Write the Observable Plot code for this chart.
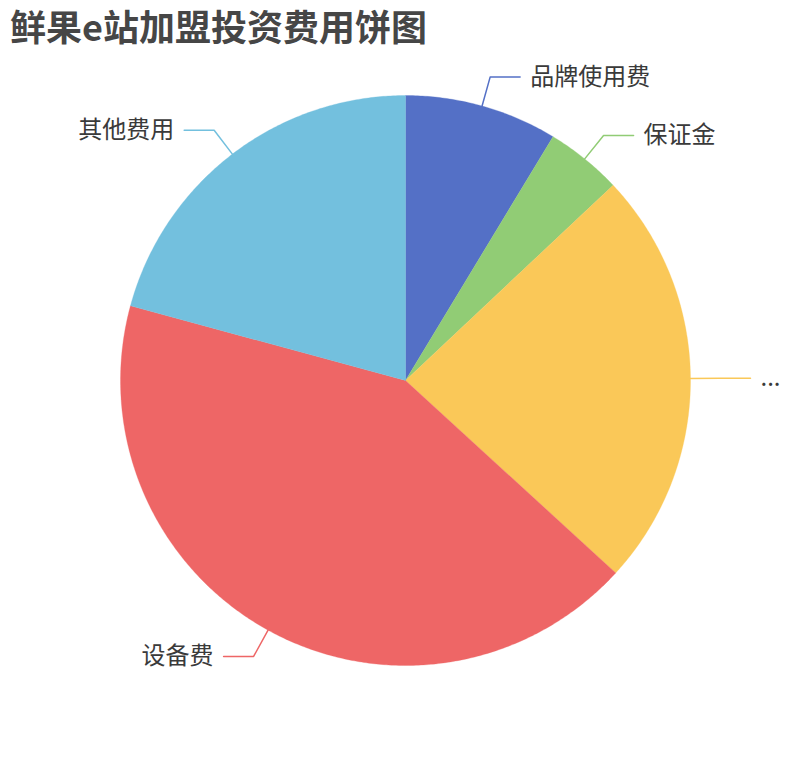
<!DOCTYPE html>
<html>
<head>
<meta charset="utf-8">
<script src="https://cdn.jsdelivr.net/npm/d3@7"></script>
<script src="https://cdn.jsdelivr.net/npm/@observablehq/plot@0.6"></script>
<style>
  html, body { margin: 0; padding: 0; background: #fff; }
  #title {
    height: 50px; line-height: 50px; padding-left: 10px;
    font-family: "Noto Sans CJK SC", "Noto Sans", sans-serif;
    font-size: 36px; font-weight: bold; color: #464646; white-space: nowrap;
  }
</style>
</head>
<body>
<div id="title">鲜果e站加盟投资费用饼图</div>
<div id="chart"></div>
<script>
// ---- data ----
const names  = ["品牌使用费", "保证金", "...", "设备费", "其他费用"];
const values = [2, 1, 5.5, 9.8, 4.8];
const colors = ["#5470c6", "#91cc75", "#fac858", "#ee6666", "#73c0de"];

// ---- layout (unit radius coordinates) ----
const W = 810, H = 710, R = 285, CX = 405, CY = 330;
const L1 = 30 / R, L2 = 30 / R, GAP = 10 / R;

const total = d3.sum(values);
let cum = 0;
const slices = names.map((name, i) => {
  const a0 = cum / total * 2 * Math.PI;
  cum += values[i];
  const a1 = cum / total * 2 * Math.PI;
  return {name, value: values[i], a0, a1, mid: (a0 + a1) / 2};
});

// polygon vertices for each slice
const poly = [];
for (const s of slices) {
  poly.push({name: s.name, x: 0, y: 0});
  const n = Math.max(2, Math.ceil((s.a1 - s.a0) / (Math.PI / 360)));
  for (let k = 0; k <= n; k++) {
    const a = s.a0 + (s.a1 - s.a0) * k / n;
    poly.push({name: s.name, x: Math.sin(a), y: Math.cos(a)});
  }
  poly.push({name: s.name, x: 0, y: 0});
}

// label lines & label anchors
const leader = [];
const labels = [];
for (const s of slices) {
  const dx = Math.sin(s.mid), dy = Math.cos(s.mid);
  const side = dx >= 0 ? 1 : -1;
  const p1x = (1 + L1) * dx, p1y = (1 + L1) * dy;
  leader.push({name: s.name, x: dx, y: dy});
  leader.push({name: s.name, x: p1x, y: p1y});
  leader.push({name: s.name, x: p1x + side * L2, y: p1y});
  labels.push({name: s.name, x: p1x + side * (L2 + GAP), y: p1y, anchor: side > 0 ? "start" : "end"});
}

const chart = Plot.plot({
  width: W,
  height: H,
  margin: 0,
  x: {domain: [-CX / R, (W - CX) / R], range: [0, W], axis: null},
  y: {domain: [-(H - CY) / R, CY / R], range: [H, 0], axis: null},
  color: {domain: names, range: colors},
  style: {fontFamily: "'Noto Sans CJK SC', 'Noto Sans', sans-serif", background: "#fff"},
  marks: [
    Plot.line(poly, {x: "x", y: "y", z: "name", fill: "name", stroke: "name", strokeWidth: 0.3, curve: "linear"}),
    Plot.line(leader, {x: "x", y: "y", z: "name", stroke: "name", strokeWidth: 1.5, fill: "none"}),
    Plot.text(labels.filter(d => d.anchor === "start"), {x: "x", y: "y", text: "name", textAnchor: "start", fontSize: 24, fill: "#3a3a3a"}),
    Plot.text(labels.filter(d => d.anchor === "end"), {x: "x", y: "y", text: "name", textAnchor: "end", fontSize: 24, fill: "#3a3a3a"})
  ]
});
document.getElementById("chart").appendChild(chart);
</script>
</body>
</html>
